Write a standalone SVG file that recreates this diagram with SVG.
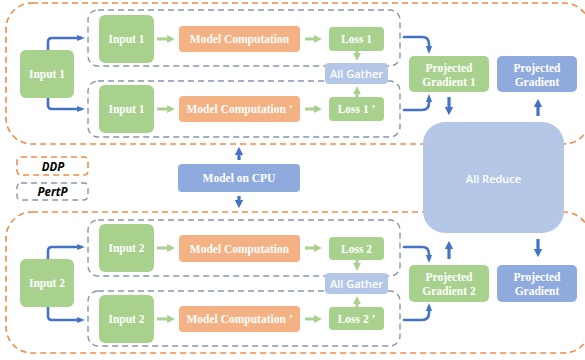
<svg xmlns="http://www.w3.org/2000/svg" width="585" height="360" viewBox="0 0 585 360">
  <style>
    .ddp { fill: none; stroke: #f08a45; stroke-width: 1.6; stroke-dasharray: 6 4; }
    .pert { fill: none; stroke: #8797ae; stroke-width: 1.4; stroke-dasharray: 6 4; }
    .green { fill: #a9d18e; }
    .orange { fill: #f4b183; }
    .blue { fill: #8faadc; }
    .light { fill: #b4c7e7; }
    .t { font-family: "Liberation Serif", "Times New Roman", serif; font-weight: bold; fill: #ffffff; font-size: 11.5px; text-anchor: middle; dominant-baseline: central; }
    .s { font-family: "Open Sans", "Liberation Sans", sans-serif; font-weight: 600; fill: #ffffff; font-size: 11px; text-anchor: middle; dominant-baseline: central; }
    .lg { font-family: "Open Sans", "Liberation Sans", sans-serif; font-weight: bold; font-style: italic; fill: #000000; font-size: 11.5px; text-anchor: middle; dominant-baseline: central; }
    .conn { fill: none; stroke: #4472c4; stroke-width: 2.6; stroke-linecap: round; }
    .garrow { fill: none; stroke: #a9d18e; stroke-width: 3; }
    .barrow { fill: none; stroke: #4472c4; stroke-width: 3.2; }
  </style>
  <defs>
    <marker id="bh" viewBox="0 0 10 10" refX="5" refY="5" markerWidth="3" markerHeight="3" orient="auto" markerUnits="strokeWidth">
      <path d="M0,1 L10,5 L0,9 Z" fill="#4472c4"/>
    </marker>
    <marker id="gh" viewBox="0 0 10 10" refX="5" refY="5" markerWidth="2.6" markerHeight="2.6" orient="auto" markerUnits="strokeWidth">
      <path d="M0,0 L10,5 L0,10 Z" fill="#a9d18e"/>
    </marker>
    <marker id="bb" viewBox="0 0 10 10" refX="5" refY="5" markerWidth="2.6" markerHeight="2.6" orient="auto" markerUnits="strokeWidth">
      <path d="M0,0 L10,5 L0,10 Z" fill="#4472c4"/>
    </marker>
  </defs>

  <!-- DDP groups -->
  <rect class="ddp" x="6" y="3" width="584" height="141" rx="26"/>
  <rect class="ddp" x="6" y="212" width="584" height="141" rx="26"/>

  <!-- PertP groups -->
  <rect class="pert" x="88" y="10" width="312" height="56" rx="10"/>
  <rect class="pert" x="88" y="81" width="312" height="56" rx="10"/>
  <rect class="pert" x="88" y="220" width="312" height="56" rx="10"/>
  <rect class="pert" x="88" y="291" width="312" height="55" rx="10"/>

  <!-- legend -->
  <g id="legend">
    <rect class="ddp" x="17" y="157" width="71" height="18" rx="4" stroke-width="1.2" stroke-dasharray="4 3"/>
    <text class="lg" x="53" y="166">DDP</text>
    <rect class="pert" x="17" y="183" width="71" height="17" rx="4" stroke-width="1.2" stroke-dasharray="4 3"/>
    <text class="lg" x="52.5" y="191.5">PertP</text>
  </g>

  <g id="connectors">
    <!-- input fan-out -->
    <path class="conn" d="M48,50 V42 Q48,38 52,38 H81" marker-end="url(#bh)"/>
    <path class="conn" d="M48,98 V105 Q48,109 52,109 H81" marker-end="url(#bh)"/>
    <path class="conn" d="M48,259 V251 Q48,247 52,247 H81" marker-end="url(#bh)"/>
    <path class="conn" d="M48,307 V316 Q48,320 52,320 H81" marker-end="url(#bh)"/>
    <!-- input to model computation -->
    <path class="garrow" d="M157,39 H171" marker-end="url(#gh)"/>
    <path class="garrow" d="M157,109 H171" marker-end="url(#gh)"/>
    <path class="garrow" d="M157,248 H171" marker-end="url(#gh)"/>
    <path class="garrow" d="M157,319 H171" marker-end="url(#gh)"/>
    <!-- model computation to loss -->
    <path class="garrow" d="M305,39 H318" marker-end="url(#gh)"/>
    <path class="garrow" d="M305,109 H318" marker-end="url(#gh)"/>
    <path class="garrow" d="M305,248 H318" marker-end="url(#gh)"/>
    <path class="garrow" d="M305,319 H318" marker-end="url(#gh)"/>
    <!-- loss to all gather -->
    <path class="garrow" d="M357,51 V57" marker-end="url(#gh)"/>
    <path class="garrow" d="M357,97 V90" marker-end="url(#gh)"/>
    <path class="garrow" d="M357,260 V267" marker-end="url(#gh)"/>
    <path class="garrow" d="M357,307 V300" marker-end="url(#gh)"/>
    <!-- pertp groups to projected gradient -->
    <path class="conn" d="M404,37 H422 Q429,37 429,44 V50" marker-end="url(#bh)"/>
    <path class="conn" d="M404,110 H422 Q429,110 429,103 V98" marker-end="url(#bh)"/>
    <path class="conn" d="M404,247 H422 Q429,247 429,254 V259" marker-end="url(#bh)"/>
    <path class="conn" d="M404,320 H422 Q429,320 429,313 V307" marker-end="url(#bh)"/>
    <!-- all reduce exchange -->
    <path class="barrow" d="M449,97 V111" marker-end="url(#bb)"/>
    <path class="barrow" d="M538,116 V103" marker-end="url(#bb)"/>
    <path class="barrow" d="M449,259 V245" marker-end="url(#bb)"/>
    <path class="barrow" d="M538,239 V253" marker-end="url(#bb)"/>
    <!-- model on cpu broadcast -->
    <path class="barrow" d="M239,160 V151" marker-end="url(#bb)"/>
    <path class="barrow" d="M239,196 V204" marker-end="url(#bb)"/>
  </g>

  <!-- upper replica -->
  <g id="input1"><rect class="green" x="20" y="50" width="54" height="48" rx="6"/><text class="t" x="47" y="74">Input 1</text></g>
  <g id="input1a"><rect class="green" x="99" y="15" width="55" height="48" rx="6"/><text class="t" x="126.5" y="39">Input 1</text></g>
  <g id="input1b"><rect class="green" x="99" y="85" width="55" height="48" rx="6"/><text class="t" x="126.5" y="109">Input 1</text></g>
  <g id="model1a"><rect class="orange" x="179" y="26" width="121" height="26" rx="4"/><text class="t" x="239.5" y="39">Model Computation</text></g>
  <g id="model1b"><rect class="orange" x="179" y="96" width="121" height="26" rx="4"/><text class="t" x="239.5" y="109">Model Computation ’</text></g>
  <g id="loss1a"><rect class="green" x="329" y="27" width="55" height="24" rx="4"/><text class="t" x="356.5" y="39">Loss 1</text></g>
  <g id="loss1b"><rect class="green" x="329" y="97" width="55" height="24" rx="4"/><text class="t" x="356.5" y="109">Loss 1 ’</text></g>
  <g id="gather1"><rect class="light" x="325" y="63" width="63" height="21" rx="4"/><text class="s" x="356.5" y="73.5">All Gather</text></g>
  <g id="proj1"><rect class="green" x="409" y="56" width="80" height="36" rx="5"/><text class="t" x="449" y="67.5">Projected</text><text class="t" x="449" y="81.5">Gradient 1</text></g>
  <g id="projOut1"><rect class="blue" x="497" y="56" width="80" height="36" rx="5"/><text class="t" x="537" y="67.5">Projected</text><text class="t" x="537" y="81.5">Gradient</text></g>

  <!-- shared -->
  <g id="allReduce"><rect class="light" x="423" y="122" width="141" height="111" rx="22"/><text class="s" x="493.5" y="178">All Reduce</text></g>
  <g id="modelCpu"><rect class="blue" x="178" y="164" width="122" height="28" rx="4"/><text class="t" x="239" y="178">Model on CPU</text></g>

  <!-- lower replica -->
  <g id="input2"><rect class="green" x="20" y="259" width="54" height="48" rx="6"/><text class="t" x="47" y="283">Input 2</text></g>
  <g id="input2a"><rect class="green" x="99" y="224" width="55" height="48" rx="6"/><text class="t" x="126.5" y="248">Input 2</text></g>
  <g id="input2b"><rect class="green" x="99" y="295" width="55" height="48" rx="6"/><text class="t" x="126.5" y="319">Input 2</text></g>
  <g id="model2a"><rect class="orange" x="179" y="235" width="121" height="27" rx="4"/><text class="t" x="239.5" y="248.5">Model Computation</text></g>
  <g id="model2b"><rect class="orange" x="179" y="306" width="121" height="26" rx="4"/><text class="t" x="239.5" y="319">Model Computation ’</text></g>
  <g id="loss2a"><rect class="green" x="329" y="237" width="55" height="23" rx="4"/><text class="t" x="356.5" y="248.5">Loss 2</text></g>
  <g id="loss2b"><rect class="green" x="329" y="307" width="55" height="23" rx="4"/><text class="t" x="356.5" y="318.5">Loss 2 ’</text></g>
  <g id="gather2"><rect class="light" x="325" y="273" width="63" height="21" rx="4"/><text class="s" x="356.5" y="283.5">All Gather</text></g>
  <g id="proj2"><rect class="green" x="409" y="265" width="80" height="37" rx="5"/><text class="t" x="449" y="277">Projected</text><text class="t" x="449" y="291">Gradient 2</text></g>
  <g id="projOut2"><rect class="blue" x="497" y="265" width="80" height="37" rx="5"/><text class="t" x="537" y="277">Projected</text><text class="t" x="537" y="291">Gradient</text></g>
</svg>
